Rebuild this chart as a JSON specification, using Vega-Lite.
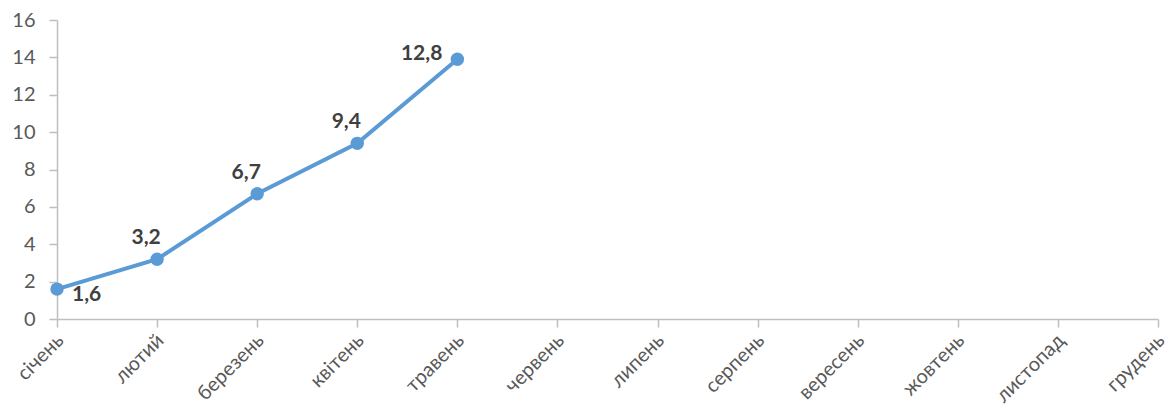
{
  "$schema": "https://vega.github.io/schema/vega-lite/v6.json",
  "autosize": {"type": "none"},
  "width": 1101,
  "height": 299,
  "padding": {"left": 57, "top": 20, "right": 11, "bottom": 89},
  "background": "white",
  "config": {
    "view": {"stroke": null},
    "font": "Lato",
    "axis": {"grid": false, "domainColor": "#bfbfbf", "tickColor": "#bfbfbf", "domainWidth": 1.5, "tickWidth": 1.5, "tickSize": 8, "labelColor": "#595959", "labelFont": "Lato", "title": null}
  },
  "data": {
    "values": [
      {"month": "січень", "value": 1.6, "label": "1,6"},
      {"month": "лютий", "value": 3.2, "label": "3,2"},
      {"month": "березень", "value": 6.7, "label": "6,7"},
      {"month": "квітень", "value": 9.4, "label": "9,4"},
      {"month": "травень", "value": 13.9, "label": "12,8"},
      {"month": "червень", "value": null, "label": null},
      {"month": "липень", "value": null, "label": null},
      {"month": "серпень", "value": null, "label": null},
      {"month": "вересень", "value": null, "label": null},
      {"month": "жовтень", "value": null, "label": null},
      {"month": "листопад", "value": null, "label": null},
      {"month": "грудень", "value": null, "label": null}
    ]
  },
  "encoding": {
    "x": {
      "field": "month", "type": "ordinal", "sort": null,
      "scale": {"type": "point", "padding": 0, "domain": ["січень", "лютий", "березень", "квітень", "травень", "червень", "липень", "серпень", "вересень", "жовтень", "листопад", "грудень"]},
      "axis": {"labelAngle": -45, "labelFontSize": 20, "labelPadding": 3, "labelOffset": -4}
    },
    "y": {
      "field": "value", "type": "quantitative",
      "scale": {"domain": [0, 16], "nice": false},
      "axis": {"values": [0, 2, 4, 6, 8, 10, 12, 14, 16], "labelFontSize": 20, "labelPadding": 14}
    }
  },
  "layer": [
    {"transform": [{"filter": "datum.value != null"}], "mark": {"type": "line", "color": "#5B9BD5", "strokeWidth": 4}},
    {"transform": [{"filter": "datum.value != null"}], "mark": {"type": "point", "filled": true, "opacity": 1, "color": "#5B9BD5", "size": 180}},
    {"transform": [{"filter": "datum.month == 'січень'"}], "mark": {"type": "text", "align": "left", "baseline": "middle", "dx": 15, "dy": 6, "fontSize": 21, "fontWeight": "bold", "color": "#404040"}, "encoding": {"text": {"field": "label"}}},
    {"transform": [{"filter": "indexof(['лютий','березень','квітень'], datum.month) >= 0"}], "mark": {"type": "text", "align": "center", "baseline": "middle", "dx": -11, "dy": -21, "fontSize": 21, "fontWeight": "bold", "color": "#404040"}, "encoding": {"text": {"field": "label"}}},
    {"transform": [{"filter": "datum.month == 'травень'"}], "mark": {"type": "text", "align": "right", "baseline": "middle", "dx": -15, "dy": -5, "fontSize": 21, "fontWeight": "bold", "color": "#404040"}, "encoding": {"text": {"field": "label"}}}
  ]
}
